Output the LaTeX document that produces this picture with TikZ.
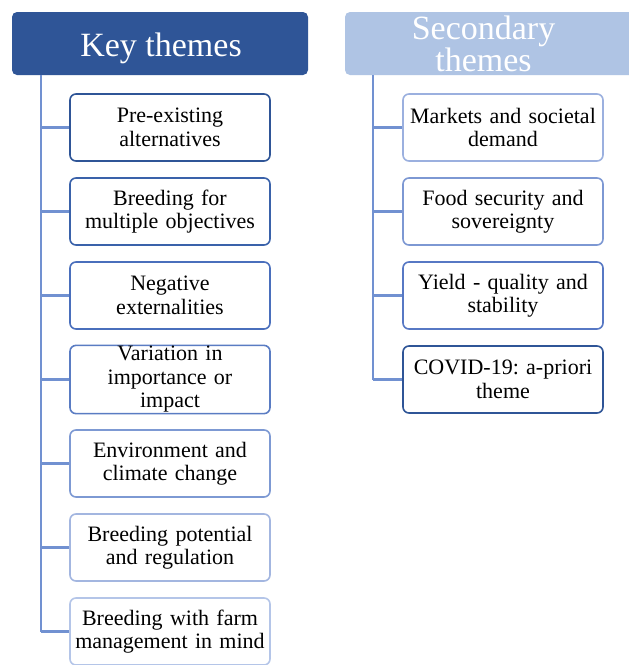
\documentclass[tikz,border=0pt]{standalone}
\usepackage{fontspec}
\setmainfont{Liberation Serif}
\frenchspacing
\definecolor{hdark}{HTML}{2F5597}
\definecolor{hlight}{HTML}{AFC4E4}
\definecolor{conn}{HTML}{7191D1}
\definecolor{b1}{HTML}{2F5597}
\definecolor{b2}{HTML}{3A62AA}
\definecolor{b3}{HTML}{4A6FBC}
\definecolor{b4}{HTML}{5A7CC3}
\definecolor{b5}{HTML}{7D99D3}
\definecolor{b6}{HTML}{A3B6E0}
\definecolor{b7}{HTML}{B4C5E8}
\definecolor{r1}{HTML}{9BB0DF}
\definecolor{r2}{HTML}{7D98D3}
\definecolor{r3}{HTML}{5778C4}
\definecolor{r4}{HTML}{2F5597}
\tikzset{
  kid/.style={draw, line width=1.6pt, rounded corners=6pt, fill=white,
    minimum width=200pt, minimum height=67pt, inner sep=1pt,
    align=center, text width=196pt,
    font=\fontsize{22}{23.5}\selectfont},
  hdr/.style={text=white, font=\fontsize{34}{29.5}\selectfont, align=center},
  link/.style={draw=conn, line width=2.2pt},
}
\begin{document}
\begin{tikzpicture}[x=1pt,y=-1pt]
\clip (0,0) rectangle (629,665);
\fill[white] (0,0) rectangle (629,665);
% headers
\fill[hdark, rounded corners=5pt] (12,12) rectangle (308,75);
\fill[hlight, rounded corners=5pt] (345,12) rectangle (650,75);
\node[hdr, anchor=base] (key) at (161,56) {Key themes};
\node[hdr, anchor=base] (sec) at (483.5,71) {Secondary\\themes};
\coordinate (ktop) at (41,75);
\coordinate (kbot) at (41,631.5);
\coordinate (stop) at (373,75);
\coordinate (sbot) at (373,379.5);
\draw[link] (ktop) -- (kbot);
\draw[link] (stop) -- (sbot);
% left children
\foreach \i/\c/\t in {1/b1/{Pre-existing\\alternatives},
  2/b2/{Breeding for\\multiple objectives},
  3/b3/{Negative\\externalities},
  4/b4/{Variation in\\importance or\\impact},
  5/b5/{Environment and\\climate change},
  6/b6/{Breeding potential\\and regulation},
  7/b7/{Breeding with farm\\management in mind}}{
  \coordinate (kj\i) at (41,{127.5+84*(\i-1)});
  \draw[link] (kj\i) -- (70,{127.5+84*(\i-1)});
  \node[kid, draw=\c] (k\i) at (170,{127.5+84*(\i-1)}) {\t};
}
% right children
\foreach \i/\c/\t in {1/r1/{Markets and societal\\demand},
  2/r2/{Food security and\\sovereignty},
  3/r3/{Yield - quality and\\stability},
  4/r4/{COVID-19: a-priori\\theme}}{
  \coordinate (sj\i) at (373,{127.5+84*(\i-1)});
  \draw[link] (sj\i) -- (403,{127.5+84*(\i-1)});
  \node[kid, draw=\c] (s\i) at (503,{127.5+84*(\i-1)}) {\t};
}
\end{tikzpicture}
\end{document}
